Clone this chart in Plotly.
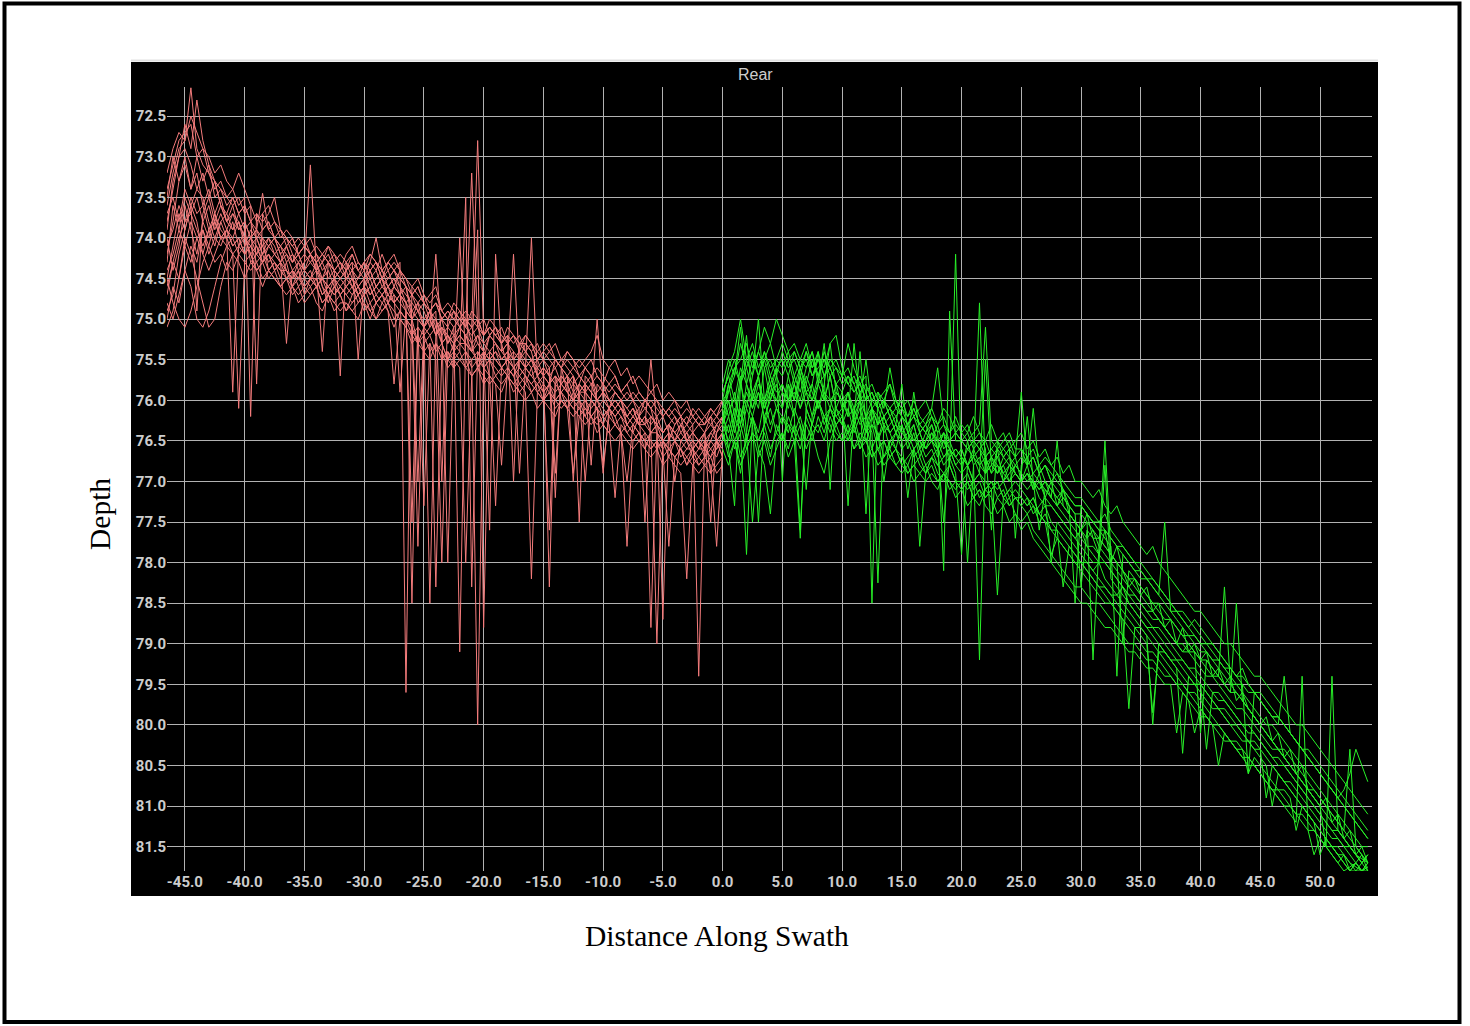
import plotly.graph_objects as go

# ---------------- data ----------------
x_port = [-46.5, -46.0, -45.5, -45.0, -44.5, -44.0, -43.5, -43.0, -42.5, -42.0,
          -41.5, -41.0, -40.5, -40.0, -39.5, -39.0, -38.5, -38.0, -37.5, -37.0,
          -36.5, -36.0, -35.5, -35.0, -34.5, -34.0, -33.5, -33.0, -32.5, -32.0,
          -31.5, -31.0, -30.5, -30.0, -29.5, -29.0, -28.5, -28.0, -27.5, -27.0,
          -26.5, -26.0, -25.5, -25.0, -24.5, -24.0, -23.5, -23.0, -22.5, -22.0,
          -21.5, -21.0, -20.5, -20.0, -19.5, -19.0, -18.5, -18.0, -17.5, -17.0,
          -16.5, -16.0, -15.5, -15.0, -14.5, -14.0, -13.5, -13.0, -12.5, -12.0,
          -11.5, -11.0, -10.5, -10.0, -9.5, -9.0, -8.5, -8.0, -7.5, -7.0,
          -6.5, -6.0, -5.5, -5.0, -4.5, -4.0, -3.5, -3.0, -2.5, -2.0,
          -1.5, -1.0, -0.5, 0.0]

x_stbd = [0.0, 0.5, 1.0, 1.5, 2.0, 2.5, 3.0, 3.5, 4.0, 4.5,
          5.0, 5.5, 6.0, 6.5, 7.0, 7.5, 8.0, 8.5, 9.0, 9.5,
          10.0, 10.5, 11.0, 11.5, 12.0, 12.5, 13.0, 13.5, 14.0, 14.5,
          15.0, 15.5, 16.0, 16.5, 17.0, 17.5, 18.0, 18.5, 19.0, 19.5,
          20.0, 20.5, 21.0, 21.5, 22.0, 22.5, 23.0, 23.5, 24.0, 24.5,
          25.0, 25.5, 26.0, 26.5, 27.0, 27.5, 28.0, 28.5, 29.0, 29.5,
          30.0, 30.5, 31.0, 31.5, 32.0, 32.5, 33.0, 33.5, 34.0, 34.5,
          35.0, 35.5, 36.0, 36.5, 37.0, 37.5, 38.0, 38.5, 39.0, 39.5,
          40.0, 40.5, 41.0, 41.5, 42.0, 42.5, 43.0, 43.5, 44.0, 44.5,
          45.0, 45.5, 46.0, 46.5, 47.0, 47.5, 48.0, 48.5, 49.0, 49.5,
          50.0, 50.5, 51.0, 51.5, 52.0, 52.5, 53.0, 53.5, 54.0]

port_ping_1 = [73.6, 73.2, 72.9, 72.8, 72.15, 72.9, 73.1, 73.2, 73.4, 73.3,
               73.5, 73.6, 73.5, 73.7, 73.6, 73.8, 73.7, 73.9, 73.8, 73.9,
               74.0, 74.1, 74.0, 74.1, 74.2, 74.1, 74.2, 74.1, 74.3, 74.2,
               74.3, 74.2, 74.4, 74.3, 74.2, 74.3, 74.4, 74.3, 74.4, 74.3,
               79.6, 74.6, 74.7, 74.8, 74.9, 74.8, 75.0, 74.9, 75.0, 74.9,
               75.0, 75.1, 75.0, 75.2, 75.1, 75.2, 75.1, 75.3, 75.2, 75.3,
               75.3, 75.4, 75.3, 75.5, 75.4, 75.5, 75.6, 75.5, 75.6, 75.5,
               75.6, 75.7, 75.6, 75.7, 75.8, 75.7, 75.9, 75.8, 76.0, 75.9,
               76.0, 76.1, 76.0, 76.1, 76.2, 76.1, 76.2, 76.1, 76.2, 76.3,
               76.2, 76.3, 76.2, 76.1]
port_ping_2 = [74.6, 74.3, 74.0, 73.8, 73.7, 73.9, 74.1, 73.9, 73.8, 74.0,
               73.9, 74.1, 74.0, 74.2, 74.1, 74.3, 74.2, 74.4, 74.3, 74.4,
               74.5, 74.4, 74.6, 74.5, 74.6, 74.5, 74.7, 74.6, 74.7, 74.6,
               74.7, 74.8, 74.7, 74.6, 74.8, 74.7, 74.8, 74.7, 74.8, 74.9,
               75.0, 75.1, 75.3, 75.2, 75.4, 75.3, 75.5, 75.4, 75.5, 75.4,
               75.6, 75.5, 80.0, 75.6, 75.5, 75.7, 75.6, 75.7, 75.6, 75.8,
               75.7, 75.9, 75.8, 75.9, 75.8, 76.0, 75.9, 76.1, 76.0, 76.1,
               76.0, 76.2, 76.1, 76.2, 76.1, 76.3, 76.2, 76.4, 76.3, 76.4,
               76.5, 76.4, 79.0, 76.5, 76.6, 76.5, 76.7, 76.6, 76.6, 76.7,
               76.6, 76.7, 76.6, 76.5]
port_ping_3 = [74.2, 73.8, 73.3, 73.0, 73.4, 73.2, 73.6, 73.4, 73.7, 73.5,
               73.8, 73.6, 73.9, 73.8, 74.0, 73.9, 74.1, 74.0, 74.2, 74.1,
               74.3, 74.2, 74.4, 74.3, 73.1, 74.4, 74.3, 74.5, 74.4, 74.5,
               74.4, 74.6, 74.5, 74.4, 74.6, 74.5, 74.4, 74.6, 74.5, 74.7,
               74.6, 74.9, 74.8, 75.1, 74.9, 75.2, 75.0, 75.3, 75.1, 79.1,
               75.2, 75.4, 75.2, 75.3, 75.4, 75.3, 75.5, 75.4, 75.5, 75.4,
               75.6, 75.5, 75.7, 75.6, 75.7, 75.6, 75.8, 75.7, 75.9, 75.8,
               75.9, 75.8, 76.0, 75.9, 76.0, 76.1, 76.0, 76.2, 76.1, 76.3,
               76.2, 76.3, 76.2, 76.4, 76.3, 76.4, 76.5, 76.4, 76.3, 79.4,
               76.5, 76.4, 76.3, 76.4]
port_ping_4 = [74.8, 75.0, 74.7, 74.4, 74.6, 75.0, 75.1, 74.9, 74.6, 74.3,
               74.1, 74.2, 76.1, 74.3, 74.2, 74.4, 74.3, 74.5, 74.4, 74.6,
               74.5, 74.7, 74.6, 74.8, 74.7, 74.6, 74.8, 74.7, 74.9, 74.8,
               74.8, 74.9, 74.8, 74.7, 74.9, 74.8, 74.9, 74.8, 74.9, 75.0,
               75.1, 75.2, 75.3, 75.4, 75.3, 78.3, 75.4, 75.5, 75.6, 75.5,
               75.6, 75.7, 75.6, 75.7, 75.8, 75.7, 75.8, 75.7, 75.9, 75.8,
               75.9, 78.2, 75.9, 76.0, 75.9, 76.1, 76.0, 76.1, 76.2, 76.1,
               76.2, 76.3, 76.2, 76.3, 76.4, 76.3, 76.4, 77.8, 76.5, 76.4,
               76.5, 76.6, 76.5, 76.7, 76.6, 76.7, 76.8, 76.7, 76.8, 76.7,
               76.8, 76.9, 76.8, 76.7]
port_ping_5 = [73.4, 73.1, 72.8, 72.7, 72.6, 73.0, 72.9, 73.2, 73.3, 73.4,
               73.5, 73.4, 73.6, 73.5, 76.2, 73.7, 73.8, 73.7, 73.5, 73.9,
               74.0, 74.1, 74.2, 74.1, 74.2, 74.3, 74.2, 74.3, 74.2, 74.3,
               74.4, 74.3, 74.4, 74.3, 74.4, 74.3, 74.4, 74.5, 74.4, 74.5,
               74.6, 74.7, 74.6, 74.8, 74.9, 74.8, 74.9, 75.0, 74.9, 75.0,
               75.1, 73.2, 75.1, 75.2, 75.1, 75.2, 75.3, 75.2, 75.3, 75.2,
               75.4, 75.3, 75.5, 75.4, 75.5, 75.6, 75.5, 75.6, 75.7, 77.5,
               75.7, 75.8, 75.7, 75.8, 75.9, 75.8, 75.9, 76.0, 75.9, 76.0,
               76.1, 76.0, 76.1, 76.2, 76.1, 76.2, 76.3, 76.2, 76.3, 76.2,
               76.3, 76.2, 76.3, 76.2]
port_ping_6 = [74.0, 74.4, 74.1, 73.6, 73.9, 74.2, 73.8, 74.0, 73.7, 73.9,
               74.0, 73.8, 74.1, 74.0, 74.2, 74.1, 74.3, 74.2, 74.3, 74.4,
               74.4, 74.5, 74.3, 74.5, 74.4, 74.6, 74.5, 74.6, 74.5, 74.7,
               74.6, 74.5, 74.7, 74.6, 74.5, 74.7, 74.6, 74.7, 74.8, 74.7,
               74.8, 78.5, 75.0, 75.1, 75.2, 75.1, 75.3, 75.2, 75.3, 75.4,
               73.5, 78.3, 75.4, 75.5, 75.4, 75.5, 75.6, 75.5, 74.2, 75.6,
               75.7, 75.8, 75.7, 75.8, 77.6, 75.8, 75.9, 75.8, 76.0, 75.9,
               76.0, 76.1, 76.0, 76.1, 76.2, 76.1, 76.2, 76.3, 76.2, 76.3,
               76.4, 78.8, 76.4, 76.5, 76.4, 76.5, 76.6, 76.5, 76.6, 76.5,
               76.6, 76.5, 76.6, 76.4]
port_ping_7 = [75.1, 74.9, 74.5, 74.0, 74.2, 74.5, 74.8, 75.1, 75.0, 74.6,
               74.3, 74.4, 74.2, 74.3, 74.4, 74.3, 74.5, 74.4, 74.5, 74.6,
               74.5, 74.6, 74.7, 74.6, 74.7, 74.6, 74.8, 74.7, 74.8, 74.7,
               74.9, 74.8, 74.7, 74.9, 74.8, 75.0, 74.9, 74.8, 75.0, 74.9,
               75.0, 75.1, 77.8, 75.3, 75.2, 75.4, 75.3, 75.5, 75.4, 75.5,
               75.4, 75.6, 75.5, 75.6, 75.7, 77.3, 75.6, 75.7, 75.8, 75.7,
               75.8, 75.9, 75.8, 76.0, 75.9, 76.0, 76.1, 76.0, 76.1, 76.2,
               76.1, 76.2, 76.3, 76.2, 76.3, 77.2, 76.3, 76.4, 76.5, 76.4,
               76.5, 76.6, 76.5, 76.6, 77.8, 76.7, 76.6, 76.8, 76.7, 76.8,
               76.7, 76.8, 77.8, 76.6]
port_ping_8 = [73.5, 73.0, 73.3, 73.1, 73.4, 73.0, 73.3, 73.1, 73.5, 73.4,
               73.6, 73.5, 73.7, 73.6, 73.8, 73.7, 73.9, 73.8, 74.0, 73.9,
               74.1, 74.0, 74.2, 74.1, 74.2, 74.3, 74.2, 74.3, 74.4, 75.7,
               74.3, 74.4, 74.3, 74.4, 74.3, 74.0, 74.4, 74.3, 74.4, 74.5,
               74.6, 74.7, 74.8, 74.7, 74.9, 74.8, 75.0, 74.9, 75.0, 75.1,
               75.0, 75.1, 72.8, 75.2, 75.1, 75.2, 75.3, 75.2, 77.0, 75.3,
               75.4, 75.5, 75.4, 75.5, 75.6, 75.5, 75.6, 75.7, 75.6, 75.7,
               75.8, 76.8, 75.8, 75.9, 75.8, 75.9, 76.0, 75.9, 76.0, 76.1,
               76.0, 76.1, 76.2, 76.1, 76.2, 76.3, 76.2, 76.3, 76.2, 76.3,
               76.3, 76.2, 76.1, 76.0]
port_ping_9 = [74.3, 73.6, 73.9, 73.5, 73.7, 73.5, 73.8, 73.6, 73.9, 73.7,
               73.9, 74.0, 73.8, 74.0, 74.1, 74.0, 74.2, 74.1, 74.2, 74.3,
               74.2, 74.4, 74.3, 74.4, 74.5, 74.4, 74.5, 74.4, 74.6, 74.5,
               74.6, 74.5, 74.6, 74.5, 74.7, 74.6, 74.5, 74.7, 74.6, 74.7,
               74.8, 74.9, 75.0, 75.1, 78.5, 75.2, 75.1, 78.0, 75.3, 75.2,
               75.3, 75.4, 75.3, 75.4, 75.5, 75.4, 75.5, 75.4, 75.6, 75.5,
               75.6, 75.7, 75.6, 75.7, 75.8, 75.7, 75.8, 75.9, 75.8, 75.9,
               75.9, 76.0, 76.1, 76.9, 76.1, 76.2, 76.1, 76.2, 76.3, 76.2,
               76.3, 75.5, 76.3, 76.4, 76.3, 76.5, 76.4, 76.5, 76.4, 76.5,
               76.4, 77.5, 76.4, 76.3]
port_ping_10 = [74.5, 74.1, 73.7, 73.9, 73.6, 73.8, 74.2, 74.4, 74.2, 74.0,
                74.1, 74.0, 74.2, 74.1, 74.0, 74.2, 74.1, 74.3, 74.2, 74.3,
                75.3, 74.4, 74.5, 74.4, 74.5, 74.6, 74.5, 74.6, 74.5, 74.6,
                74.5, 74.6, 74.7, 74.6, 74.7, 74.6, 74.7, 74.6, 74.7, 75.9,
                74.9, 75.0, 74.9, 75.1, 75.0, 75.2, 75.1, 75.2, 75.3, 75.2,
                75.3, 75.4, 75.5, 75.4, 75.5, 75.4, 75.6, 75.5, 75.6, 75.5,
                75.6, 74.0, 75.7, 75.6, 78.3, 75.7, 75.8, 75.7, 77.0, 75.8,
                75.9, 76.0, 75.0, 76.0, 76.1, 76.0, 76.1, 76.2, 76.1, 76.2,
                76.3, 76.2, 76.3, 76.4, 76.3, 76.4, 76.5, 76.4, 76.5, 76.6,
                76.5, 76.6, 76.5, 76.4]
port_ping_11 = [74.9, 74.7, 74.2, 73.9, 73.6, 73.4, 73.5, 73.8, 74.0, 74.1,
                73.9, 73.7, 73.8, 74.0, 74.2, 74.4, 74.3, 74.1, 74.0, 74.2,
                74.4, 74.6, 74.5, 74.3, 74.2, 74.4, 74.6, 74.7, 74.5, 74.4,
                74.3, 74.5, 74.7, 74.6, 74.4, 74.3, 74.5, 74.8, 74.6, 74.4,
                74.6, 75.0, 75.3, 75.1, 74.9, 75.0, 75.3, 75.5, 75.3, 75.1,
                75.0, 75.3, 75.6, 75.5, 75.2, 75.1, 75.3, 75.6, 75.7, 75.5,
                75.3, 75.4, 75.7, 75.9, 75.8, 75.5, 75.6, 75.9, 76.0, 75.8,
                75.6, 75.7, 76.0, 76.2, 76.1, 75.9, 76.0, 76.3, 76.4, 76.2,
                76.0, 76.1, 76.4, 76.6, 76.5, 76.3, 76.2, 76.5, 76.7, 76.6,
                76.4, 76.2, 76.5, 76.7]
port_ping_12 = [73.2, 72.9, 72.7, 72.8, 72.5, 72.7, 72.9, 73.0, 73.2, 73.1,
                73.3, 73.4, 73.2, 73.4, 73.6, 75.8, 73.7, 73.6, 73.8, 74.0,
                73.9, 74.0, 74.2, 74.1, 74.0, 74.2, 74.3, 74.1, 74.2, 74.4,
                74.2, 74.1, 74.3, 74.4, 74.2, 74.3, 74.5, 74.3, 74.2, 74.4,
                74.5, 74.7, 74.6, 74.8, 74.7, 74.6, 74.9, 75.0, 74.8, 74.9,
                75.1, 74.9, 75.0, 75.2, 75.0, 75.1, 75.3, 75.1, 75.2, 75.4,
                75.2, 75.3, 75.5, 75.4, 75.3, 75.5, 75.6, 75.4, 75.5, 75.7,
                75.6, 75.5, 75.7, 75.8, 75.6, 75.7, 75.9, 75.8, 75.7, 75.9,
                76.0, 75.9, 76.0, 76.2, 76.1, 76.0, 76.2, 76.3, 76.1, 76.2,
                76.3, 76.1, 76.2, 76.3]
port_ping_13 = [74.4, 74.2, 73.9, 74.1, 73.8, 74.0, 73.9, 74.2, 74.0, 73.8,
                74.0, 74.2, 74.1, 73.9, 74.3, 74.2, 74.0, 74.4, 74.3, 74.5,
                74.3, 74.6, 74.4, 74.7, 74.5, 74.3, 74.6, 74.8, 74.6, 74.7,
                74.9, 74.7, 74.6, 74.8, 75.0, 74.8, 74.7, 74.9, 75.1, 74.9,
                75.0, 75.2, 75.1, 77.3, 75.3, 75.5, 78.0, 75.4, 75.6, 74.0,
                75.5, 75.7, 75.6, 75.4, 75.7, 75.8, 76.8, 75.6, 75.7, 75.9,
                75.8, 75.6, 75.9, 76.0, 75.8, 75.7, 76.0, 76.1, 75.9, 76.0,
                76.2, 76.0, 76.1, 76.3, 76.1, 76.2, 76.4, 77.0, 76.3, 76.4,
                76.6, 76.4, 76.3, 76.5, 76.7, 76.5, 76.6, 76.8, 76.6, 76.5,
                76.7, 76.5, 76.3, 76.2]
port_ping_14 = [73.8, 73.4, 73.0, 72.6, 72.9, 72.3, 72.8, 73.1, 73.3, 73.6,
                73.8, 73.9, 73.7, 73.6, 73.8, 73.9, 73.45, 73.9, 74.0, 74.1,
                74.2, 74.3, 74.1, 74.0, 74.2, 74.4, 74.3, 74.2, 74.4, 74.5,
                74.4, 74.3, 75.5, 74.5, 74.4, 74.6, 74.5, 74.4, 74.6, 74.7,
                74.9, 75.0, 74.8, 74.9, 75.1, 75.0, 75.2, 75.1, 74.9, 75.1,
                75.2, 75.1, 75.3, 75.4, 75.2, 75.3, 75.4, 75.3, 75.5, 75.4,
                75.5, 75.6, 75.5, 75.7, 75.6, 76.9, 75.7, 75.8, 75.7, 75.9,
                75.8, 75.9, 76.0, 75.9, 76.1, 76.0, 76.1, 76.2, 76.1, 76.3,
                76.2, 76.4, 76.3, 76.2, 76.4, 76.5, 76.3, 76.4, 76.6, 76.5,
                76.6, 76.4, 76.5, 76.7]
port_ping_15 = [74.7, 74.3, 74.5, 74.1, 74.3, 74.0, 74.2, 73.9, 74.1, 73.8,
                73.7, 73.9, 73.8, 74.1, 73.9, 74.0, 74.2, 74.0, 74.1, 74.3,
                74.1, 74.3, 74.2, 74.4, 74.2, 74.3, 74.5, 74.3, 74.4, 74.3,
                74.4, 74.2, 74.4, 74.5, 74.3, 74.4, 74.2, 74.4, 74.3, 74.4,
                74.5, 74.6, 74.5, 74.7, 74.8, 74.7, 74.9, 74.8, 74.9, 75.0,
                74.9, 75.0, 75.1, 75.0, 75.2, 75.1, 75.2, 75.3, 75.2, 75.3,
                75.2, 75.3, 75.4, 75.3, 75.4, 75.3, 75.5, 75.4, 75.5, 75.6,
                75.5, 75.4, 75.2, 75.5, 75.6, 75.5, 75.7, 75.6, 75.8, 75.7,
                75.8, 75.9, 75.8, 76.0, 75.9, 76.0, 76.1, 76.0, 76.2, 76.1,
                76.2, 76.1, 76.2, 76.0]
port_ping_16 = [74.5, 74.8, 75.0, 75.1, 74.9, 74.6, 74.3, 74.1, 74.3, 74.2,
                74.4, 74.2, 74.3, 74.5, 74.3, 74.4, 74.6, 74.4, 74.5, 74.6,
                74.7, 74.6, 74.8, 74.7, 74.6, 74.8, 74.9, 74.7, 74.8, 74.9,
                74.8, 74.9, 75.0, 74.8, 74.9, 75.0, 74.8, 74.9, 75.8, 75.0,
                75.1, 75.3, 75.2, 75.4, 75.5, 75.3, 75.4, 75.6, 75.5, 75.6,
                78.0, 75.7, 75.6, 75.8, 75.7, 75.8, 75.9, 75.7, 75.8, 75.9,
                76.0, 75.9, 76.1, 76.0, 76.1, 76.2, 76.0, 76.1, 76.9, 76.2,
                76.3, 76.2, 76.4, 76.3, 76.4, 76.5, 76.4, 76.5, 76.6, 76.5,
                76.6, 76.7, 76.6, 76.8, 76.7, 76.8, 76.9, 78.2, 76.8, 76.9,
                76.8, 76.7, 76.9, 76.8]
port_ping_17 = [73.7, 73.5, 73.8, 73.4, 73.6, 74.9, 73.7, 73.5, 73.8, 73.6,
                73.8, 73.7, 73.9, 73.8, 74.0, 73.9, 74.0, 74.1, 74.0, 74.2,
                74.1, 74.3, 74.2, 74.4, 74.3, 74.4, 75.4, 74.3, 74.5, 74.4,
                74.5, 74.4, 74.6, 74.5, 74.4, 74.6, 74.5, 74.6, 74.5, 74.6,
                74.7, 74.8, 74.9, 75.0, 74.9, 75.1, 75.0, 75.1, 75.2, 75.1,
                75.2, 75.3, 75.2, 75.4, 77.6, 74.2, 75.4, 75.5, 75.4, 76.9,
                75.6, 75.5, 75.7, 75.6, 75.7, 75.8, 75.7, 75.8, 75.7, 75.9,
                75.8, 75.9, 76.0, 75.9, 76.0, 76.1, 76.0, 76.1, 76.2, 76.1,
                77.5, 76.2, 76.3, 76.4, 76.3, 76.4, 76.3, 76.5, 76.4, 76.5,
                76.4, 76.9, 76.5, 76.4]
port_ping_18 = [73.9, 73.3, 73.0, 72.9, 73.1, 73.4, 73.2, 73.5, 73.3, 73.6,
                73.7, 73.5, 73.7, 73.9, 73.8, 74.0, 73.9, 73.8, 74.0, 74.1,
                74.0, 74.2, 74.3, 74.2, 74.3, 74.2, 74.4, 74.3, 74.4, 74.3,
                74.5, 74.4, 74.5, 74.3, 74.5, 74.4, 74.6, 74.5, 74.4, 74.6,
                74.8, 74.7, 74.9, 74.8, 75.0, 74.9, 77.0, 75.0, 75.1, 75.0,
                75.1, 75.2, 75.1, 75.3, 75.2, 75.3, 75.4, 75.3, 75.4, 75.5,
                75.4, 75.5, 75.6, 75.5, 75.7, 77.2, 75.6, 75.7, 75.8, 75.7,
                75.8, 75.7, 75.9, 75.8, 76.0, 75.9, 76.0, 76.1, 76.0, 76.2,
                76.1, 76.2, 76.3, 78.7, 76.3, 76.2, 76.4, 76.3, 76.4, 76.3,
                76.4, 76.3, 76.4, 76.2]
port_ping_19 = [75.0, 74.6, 74.8, 74.4, 74.1, 74.3, 73.9, 74.1, 73.8, 74.0,
                74.0, 75.9, 74.1, 74.2, 74.0, 74.1, 74.3, 74.2, 74.4, 74.3,
                74.4, 74.5, 74.4, 74.6, 74.5, 74.5, 74.7, 74.6, 74.7, 74.6,
                74.7, 74.6, 74.8, 74.7, 74.6, 74.8, 74.7, 74.8, 74.7, 74.8,
                74.9, 77.5, 75.1, 75.2, 75.1, 74.2, 75.3, 75.2, 75.4, 75.3,
                75.4, 75.5, 75.4, 75.6, 75.5, 75.6, 75.7, 75.6, 75.7, 75.6,
                75.7, 75.8, 75.9, 75.8, 75.9, 76.0, 75.9, 76.0, 76.1, 76.0,
                76.1, 76.2, 76.1, 76.8, 76.2, 76.3, 76.4, 76.3, 76.4, 76.5,
                76.4, 76.5, 76.6, 76.5, 76.6, 76.7, 76.6, 76.7, 76.6, 76.8,
                76.7, 76.6, 76.7, 76.5]
port_ping_20 = [74.1, 73.9, 73.6, 73.8, 73.5, 73.7, 73.6, 73.9, 73.7, 74.0,
                73.9, 74.1, 74.0, 74.2, 74.1, 74.2, 74.3, 74.2, 74.4, 74.3,
                74.5, 74.4, 74.5, 74.6, 74.5, 74.6, 74.5, 74.7, 74.6, 74.7,
                74.6, 74.7, 74.6, 74.7, 74.6, 74.8, 74.7, 74.6, 74.8, 74.7,
                74.8, 75.0, 77.0, 75.1, 75.0, 75.2, 75.1, 75.3, 75.2, 75.3,
                75.3, 75.4, 73.9, 78.8, 75.4, 75.5, 75.6, 75.5, 75.6, 75.7,
                75.6, 75.7, 75.8, 75.7, 75.8, 75.9, 75.8, 75.9, 76.0, 75.9,
                77.0, 76.0, 76.1, 76.0, 76.1, 76.2, 76.1, 76.3, 76.2, 76.3,
                76.3, 76.4, 76.4, 76.5, 76.4, 77.0, 76.5, 76.6, 76.5, 76.6,
                76.6, 76.7, 76.5, 76.6]

stbd_ping_1 = [76.3, 75.8, 76.2, 75.7, 76.4, 75.9, 76.1, 75.6, 76.0, 75.8,
               76.1, 75.7, 76.0, 75.6, 75.9, 76.2, 75.8, 76.0, 75.7, 76.1,
               76.2, 75.9, 76.3, 76.0, 76.4, 76.1, 76.5, 76.2, 76.4, 76.6,
               76.3, 76.6, 76.4, 76.7, 76.5, 76.3, 76.6, 76.4, 76.8, 74.2,
               76.9, 76.5, 76.8, 79.2, 76.7, 76.9, 76.6, 77.0, 76.8, 76.7,
               77.0, 76.8, 77.1, 76.9, 77.2, 77.0, 77.3, 77.1, 77.4, 77.5,
               77.6, 77.4, 77.7, 77.9, 77.6, 78.0, 77.8, 78.1, 78.3, 78.2,
               78.4, 78.3, 78.6, 78.5, 78.8, 78.7, 79.0, 78.8, 79.1, 79.0,
               79.2, 79.1, 79.4, 79.3, 79.5, 79.4, 79.7, 79.6, 79.8, 79.9,
               80.0, 79.9, 80.2, 80.1, 80.4, 80.3, 80.6, 80.5, 80.8, 80.9,
               81.0, 80.9, 81.2, 81.1, 81.4, 81.3, 81.6, 81.5, 81.7]
stbd_ping_2 = [76.0, 75.6, 75.4, 75.0, 75.5, 75.3, 75.6, 75.4, 75.7, 75.5,
               75.6, 75.4, 75.7, 75.5, 75.3, 75.6, 75.4, 75.7, 75.5, 75.6,
               75.7, 75.3, 75.6, 75.8, 75.7, 78.5, 75.9, 76.0, 75.8, 76.1,
               76.0, 76.2, 76.1, 76.3, 76.2, 76.1, 76.3, 76.2, 76.4, 76.3,
               76.4, 76.5, 76.4, 76.3, 75.1, 76.5, 76.6, 76.5, 76.4, 76.6,
               76.6, 76.7, 76.6, 76.8, 76.7, 76.8, 76.9, 77.0, 77.1, 77.2,
               77.2, 77.3, 77.4, 77.5, 77.4, 77.6, 77.7, 77.8, 77.9, 78.0,
               78.0, 78.1, 78.2, 78.3, 78.4, 78.5, 78.6, 78.7, 78.8, 78.7,
               78.8, 78.9, 79.0, 79.1, 79.2, 79.3, 79.4, 79.3, 79.5, 79.6,
               79.6, 79.7, 79.8, 79.9, 80.0, 80.1, 80.2, 80.3, 80.4, 80.5,
               80.6, 80.7, 80.8, 80.9, 81.0, 81.1, 81.2, 81.3, 81.4]
stbd_ping_3 = [76.5, 76.3, 76.6, 76.4, 77.9, 76.2, 76.5, 76.3, 76.1, 76.4,
               76.2, 76.3, 76.5, 77.7, 76.1, 76.3, 76.0, 76.2, 76.4, 76.1,
               76.3, 76.4, 76.2, 76.5, 76.3, 76.6, 76.4, 76.7, 76.5, 76.6,
               76.8, 76.7, 76.6, 77.8, 76.9, 76.7, 76.8, 76.9, 76.8, 77.0,
               77.0, 76.9, 77.1, 77.0, 77.2, 77.1, 77.0, 77.2, 77.1, 77.2,
               77.3, 77.2, 77.4, 77.3, 77.2, 78.0, 77.5, 77.6, 77.7, 77.8,
               77.9, 78.0, 78.1, 78.0, 78.2, 78.3, 78.4, 78.3, 78.5, 78.6,
               78.7, 78.8, 78.9, 79.0, 79.1, 79.2, 79.3, 80.35, 79.4, 79.5,
               79.5, 79.6, 79.7, 79.8, 79.9, 80.0, 80.0, 80.1, 80.2, 80.3,
               80.3, 80.4, 80.5, 80.6, 80.7, 80.8, 80.9, 81.0, 81.1, 81.2,
               81.3, 81.4, 81.5, 81.6, 81.6, 81.7, 81.75, 81.8, 81.75]
stbd_ping_4 = [76.1, 76.0, 76.3, 75.8, 76.1, 75.7, 75.0, 76.0, 75.8, 76.1,
               75.9, 76.0, 75.8, 76.1, 75.9, 76.0, 75.8, 75.3, 76.0, 75.9,
               76.0, 76.2, 76.1, 76.3, 76.2, 76.4, 78.25, 76.3, 76.4, 76.3,
               76.5, 76.4, 76.6, 76.5, 76.6, 76.4, 76.5, 76.7, 76.6, 76.7,
               76.8, 76.6, 76.7, 74.8, 76.9, 76.8, 76.9, 76.7, 76.8, 76.9,
               77.0, 76.9, 77.0, 77.1, 77.0, 77.1, 77.2, 77.3, 77.4, 77.5,
               77.6, 77.5, 79.2, 77.8, 76.5, 77.9, 78.0, 78.1, 78.2, 78.3,
               78.4, 78.5, 78.6, 78.7, 78.8, 78.9, 79.0, 79.1, 79.0, 79.1,
               79.2, 79.3, 79.4, 79.4, 79.5, 79.6, 78.5, 79.7, 79.8, 79.9,
               80.0, 80.1, 80.2, 80.3, 80.4, 80.5, 80.6, 80.7, 80.8, 80.9,
               81.0, 81.1, 81.2, 81.3, 81.4, 81.5, 81.6, 81.65, 81.7]
stbd_ping_5 = [76.0, 75.9, 75.6, 75.8, 75.5, 75.7, 75.4, 75.6, 75.5, 75.7,
               75.4, 75.6, 75.5, 75.7, 75.4, 75.6, 75.5, 75.7, 75.6, 75.8,
               75.7, 75.8, 75.9, 75.8, 76.0, 75.9, 76.1, 76.0, 76.2, 76.1,
               76.2, 76.3, 76.2, 76.4, 76.3, 76.2, 76.4, 78.1, 74.9, 76.5,
               76.5, 76.6, 76.5, 76.6, 76.7, 76.6, 76.7, 76.6, 76.7, 76.8,
               76.7, 76.8, 76.1, 76.9, 76.8, 76.9, 77.0, 77.1, 77.2, 77.3,
               77.3, 77.4, 77.5, 77.6, 77.7, 77.8, 79.4, 77.9, 78.0, 78.1,
               78.1, 78.2, 78.3, 78.4, 77.5, 78.6, 78.7, 78.8, 78.9, 78.9,
               79.0, 79.1, 79.2, 79.2, 79.3, 79.4, 79.5, 79.5, 80.6, 79.6,
               79.7, 79.8, 79.9, 80.0, 79.4, 80.1, 80.2, 80.3, 80.4, 80.5,
               80.6, 80.7, 80.8, 80.9, 81.0, 81.1, 81.2, 81.3, 81.4]
stbd_ping_6 = [76.4, 76.2, 76.5, 76.3, 76.6, 76.4, 76.5, 76.3, 76.6, 76.4,
               76.5, 76.3, 76.4, 76.2, 76.5, 76.3, 76.4, 76.2, 76.3, 76.5,
               76.4, 76.5, 76.3, 76.6, 76.5, 76.7, 76.6, 76.8, 76.7, 76.6,
               76.8, 76.9, 76.8, 76.9, 77.0, 76.9, 77.0, 76.9, 77.1, 77.0,
               77.1, 77.0, 77.2, 77.1, 77.2, 77.1, 78.4, 77.2, 77.3, 77.2,
               77.3, 77.4, 77.3, 77.5, 77.4, 77.6, 77.7, 77.8, 77.9, 78.0,
               78.1, 78.2, 78.3, 78.4, 78.5, 78.5, 78.6, 78.7, 79.8, 78.8,
               78.9, 79.0, 79.85, 79.1, 79.2, 79.3, 79.4, 79.5, 79.6, 79.6,
               79.7, 79.8, 79.9, 80.0, 80.1, 80.2, 80.2, 80.3, 80.4, 80.5,
               80.6, 80.7, 80.8, 80.9, 81.0, 81.1, 81.2, 79.4, 81.3, 81.6,
               81.4, 81.5, 81.6, 81.7, 81.8, 81.75, 81.7, 81.8, 81.7]
stbd_ping_7 = [76.2, 76.4, 76.1, 76.3, 76.0, 76.2, 75.9, 76.1, 75.8, 76.0,
               76.1, 75.8, 76.0, 75.7, 75.9, 75.8, 76.1, 75.9, 76.0, 76.2,
               76.1, 76.0, 76.2, 75.4, 76.3, 76.1, 76.2, 76.4, 76.3, 76.2,
               76.4, 76.5, 76.3, 76.6, 76.5, 76.4, 76.6, 77.5, 76.7, 76.6,
               76.7, 76.8, 76.6, 76.8, 76.9, 76.7, 76.8, 77.0, 76.9, 76.8,
               76.9, 77.0, 76.9, 77.0, 77.1, 77.2, 76.5, 77.3, 77.4, 77.5,
               77.6, 77.7, 77.6, 77.8, 77.9, 78.0, 78.1, 78.2, 78.3, 78.4,
               78.5, 78.6, 78.6, 78.7, 78.8, 78.9, 79.0, 79.0, 79.1, 79.1,
               80.1, 79.2, 79.3, 79.4, 78.3, 79.5, 79.6, 79.7, 79.8, 79.9,
               80.0, 80.1, 80.2, 80.3, 80.4, 80.5, 80.6, 80.7, 80.8, 80.9,
               81.0, 81.5, 79.4, 81.3, 81.4, 81.5, 81.6, 81.7, 81.6]
stbd_ping_8 = [75.9, 75.7, 76.0, 75.6, 75.8, 75.5, 75.7, 75.4, 75.6, 75.5,
               75.3, 75.5, 75.4, 75.6, 75.5, 75.7, 75.6, 75.5, 75.7, 75.6,
               75.8, 75.7, 75.9, 75.8, 76.0, 75.9, 76.1, 76.0, 76.1, 76.2,
               76.1, 76.3, 76.2, 76.3, 76.4, 76.3, 76.5, 76.4, 76.5, 76.4,
               76.5, 76.6, 76.5, 76.6, 76.5, 76.7, 76.6, 76.7, 76.6, 76.7,
               75.9, 76.8, 76.7, 76.9, 76.8, 77.0, 76.9, 77.1, 77.2, 77.3,
               77.3, 77.4, 77.5, 77.5, 77.6, 77.7, 77.8, 77.8, 77.9, 78.0,
               78.1, 78.2, 78.2, 78.3, 78.4, 78.5, 78.6, 78.6, 78.7, 78.8,
               78.9, 79.0, 79.0, 79.1, 79.2, 79.3, 79.4, 79.4, 79.5, 79.6,
               79.7, 79.8, 79.9, 79.9, 80.0, 80.1, 80.2, 80.3, 80.4, 80.5,
               80.6, 80.7, 80.8, 80.9, 80.8, 80.6, 80.3, 80.5, 80.7]
stbd_ping_9 = [76.6, 76.8, 76.5, 76.9, 76.4, 77.5, 76.6, 76.8, 77.4, 76.5,
               76.4, 76.6, 76.3, 76.5, 76.2, 76.4, 76.3, 76.5, 76.2, 76.4,
               76.5, 76.3, 76.6, 76.4, 76.5, 76.7, 76.6, 76.5, 76.7, 76.8,
               76.7, 76.9, 76.8, 76.7, 76.9, 76.8, 77.0, 76.9, 77.0, 77.1,
               77.0, 77.1, 77.0, 77.2, 77.1, 77.0, 77.2, 77.1, 77.3, 77.2,
               77.2, 77.3, 77.2, 77.4, 77.5, 77.6, 77.6, 77.7, 77.8, 77.9,
               78.0, 78.1, 78.2, 78.3, 78.4, 78.5, 78.6, 78.7, 78.8, 78.9,
               79.0, 79.1, 79.1, 79.2, 79.3, 79.4, 79.5, 79.5, 79.6, 79.7,
               79.8, 79.9, 80.0, 80.0, 80.1, 80.2, 80.3, 80.4, 80.4, 80.5,
               80.6, 80.7, 80.8, 80.9, 81.0, 81.0, 81.1, 81.2, 81.3, 81.3,
               81.4, 81.5, 81.6, 81.7, 81.6, 81.8, 81.8, 81.8, 81.75]
stbd_ping_10 = [76.3, 76.1, 76.0, 76.2, 75.9, 76.1, 75.8, 76.0, 75.7, 75.9,
                75.8, 76.0, 75.7, 75.9, 75.6, 75.4, 75.8, 75.7, 77.1, 75.9,
                76.0, 75.9, 76.1, 76.0, 76.2, 76.1, 76.3, 76.2, 76.4, 76.3,
                75.8, 76.4, 76.5, 76.4, 76.6, 76.5, 76.6, 76.5, 76.7, 76.6,
                76.7, 76.8, 76.7, 76.8, 76.7, 76.9, 76.8, 76.9, 76.8, 76.9,
                77.0, 76.9, 77.0, 77.1, 77.0, 77.2, 77.3, 77.2, 77.3, 77.4,
                78.3, 77.6, 77.7, 77.7, 77.8, 77.9, 78.0, 78.1, 78.2, 78.2,
                78.3, 78.4, 78.5, 78.6, 78.7, 78.7, 78.8, 78.9, 79.0, 79.1,
                79.2, 79.2, 79.3, 79.4, 79.5, 79.6, 79.6, 79.7, 79.8, 79.9,
                80.0, 80.1, 80.2, 80.3, 80.3, 80.4, 80.5, 80.6, 80.7, 80.8,
                80.9, 81.0, 81.1, 81.2, 81.3, 80.3, 81.5, 81.6, 81.7]
stbd_ping_11 = [75.8, 75.5, 75.7, 75.3, 75.6, 75.4, 75.7, 75.5, 75.3, 75.6,
                75.5, 75.7, 75.4, 75.6, 75.8, 75.5, 75.7, 75.4, 75.6, 75.5,
                75.7, 75.6, 75.8, 75.7, 75.9, 75.8, 76.0, 75.9, 75.8, 76.0,
                76.1, 76.0, 76.2, 76.1, 76.0, 76.2, 76.3, 76.1, 76.2, 76.4,
                76.3, 76.4, 76.2, 76.4, 76.5, 76.3, 76.5, 76.4, 76.6, 76.5,
                76.4, 76.6, 76.5, 76.7, 76.6, 76.8, 76.7, 76.9, 76.8, 77.0,
                77.0, 77.1, 77.2, 77.1, 77.3, 77.4, 77.3, 77.5, 77.6, 77.7,
                77.8, 77.9, 77.8, 78.0, 78.1, 78.2, 78.3, 78.4, 78.5, 78.6,
                78.6, 78.7, 78.8, 78.9, 79.0, 79.0, 79.1, 79.2, 79.3, 79.4,
                79.4, 79.5, 79.6, 79.7, 79.8, 79.9, 80.0, 80.0, 80.1, 80.2,
                80.3, 80.4, 80.5, 80.6, 80.7, 80.8, 80.9, 81.0, 81.1]
stbd_ping_12 = [76.4, 76.6, 76.3, 76.7, 76.5, 76.2, 76.6, 76.4, 76.7, 76.3,
                76.5, 76.2, 76.4, 76.6, 76.3, 76.5, 76.2, 76.4, 76.1, 76.3,
                76.2, 76.5, 76.3, 76.6, 76.4, 76.3, 76.6, 76.5, 76.7, 76.6,
                76.7, 76.8, 76.6, 76.8, 76.9, 76.7, 76.9, 77.0, 76.8, 77.0,
                77.1, 77.0, 77.2, 77.3, 77.1, 77.2, 77.4, 77.3, 77.2, 77.4,
                77.5, 77.4, 77.6, 77.7, 77.8, 77.9, 78.0, 78.1, 78.2, 78.3,
                78.3, 78.4, 78.5, 78.5, 78.6, 78.7, 78.8, 78.9, 79.0, 79.0,
                79.1, 79.2, 79.2, 79.3, 79.4, 79.4, 79.5, 79.6, 79.7, 80.1,
                79.8, 79.9, 80.0, 80.5, 80.1, 80.2, 80.3, 80.3, 80.6, 80.4,
                80.5, 80.6, 80.7, 80.8, 80.8, 80.9, 81.3, 81.0, 81.1, 81.2,
                81.3, 81.4, 81.5, 81.5, 81.6, 81.7, 81.8, 81.7, 81.6]
stbd_ping_13 = [76.0, 76.2, 75.9, 76.3, 75.8, 76.1, 75.9, 76.2, 76.0, 75.7,
                75.9, 76.1, 75.8, 76.0, 75.7, 75.9, 76.1, 75.8, 75.3, 75.9,
                76.0, 77.3, 76.1, 75.9, 76.2, 76.0, 76.1, 76.3, 76.2, 76.4,
                76.3, 76.5, 75.9, 76.4, 76.6, 76.5, 76.7, 76.5, 76.6, 76.8,
                76.7, 78.0, 76.8, 76.7, 76.9, 76.8, 76.7, 76.9, 77.0, 76.8,
                76.9, 76.2, 77.0, 77.6, 77.1, 77.2, 77.3, 77.4, 77.5, 77.6,
                77.7, 77.8, 77.8, 77.9, 78.0, 78.1, 78.2, 78.3, 78.4, 78.5,
                78.6, 78.7, 78.8, 78.8, 78.9, 79.0, 79.1, 79.2, 79.3, 79.3,
                79.4, 79.5, 79.6, 79.6, 79.7, 79.8, 79.9, 80.0, 80.0, 80.1,
                80.2, 80.3, 80.4, 80.4, 80.5, 80.6, 80.7, 80.8, 80.9, 81.0,
                81.1, 81.2, 81.3, 81.4, 81.5, 81.5, 81.6, 81.7, 81.6]
stbd_ping_14 = [76.1, 75.8, 75.6, 75.5, 75.3, 75.6, 75.4, 75.1, 75.3, 75.0,
                75.2, 75.4, 75.3, 75.5, 75.6, 75.4, 75.7, 75.5, 75.6, 75.8,
                75.9, 75.7, 75.8, 76.0, 75.9, 76.1, 76.0, 76.2, 76.1, 76.0,
                76.2, 76.3, 76.1, 76.3, 76.4, 76.2, 76.4, 76.3, 76.5, 76.4,
                76.5, 76.4, 76.6, 76.5, 76.7, 76.6, 76.5, 76.7, 76.6, 77.7,
                76.8, 76.7, 76.9, 76.8, 77.0, 77.1, 77.2, 77.1, 77.3, 77.4,
                77.4, 77.5, 77.6, 77.7, 77.8, 77.9, 78.0, 79.0, 78.1, 78.2,
                78.3, 78.4, 78.5, 78.5, 78.6, 78.7, 78.8, 78.9, 78.9, 79.0,
                79.1, 79.1, 79.2, 79.3, 79.4, 79.5, 79.5, 79.6, 79.7, 79.8,
                79.9, 80.0, 80.0, 80.1, 80.2, 80.3, 80.4, 80.5, 80.6, 80.7,
                80.8, 80.9, 81.0, 81.1, 81.2, 81.3, 81.4, 81.5, 81.5]
stbd_ping_15 = [76.3, 76.0, 76.4, 76.1, 76.5, 76.2, 76.4, 76.0, 76.3, 76.1,
                76.2, 76.4, 76.1, 76.3, 77.1, 76.2, 76.0, 76.3, 76.1, 76.2,
                76.3, 76.1, 76.4, 76.2, 76.5, 76.3, 76.4, 77.0, 76.5, 76.4,
                76.6, 76.5, 76.7, 76.6, 76.8, 76.7, 76.6, 76.8, 76.7, 76.9,
                77.9, 76.8, 77.0, 76.9, 77.1, 77.0, 77.1, 77.0, 77.2, 77.1,
                77.2, 77.3, 77.2, 77.4, 77.3, 77.5, 77.6, 78.3, 77.8, 77.9,
                78.0, 78.0, 78.1, 78.2, 78.3, 78.4, 78.4, 78.5, 78.6, 78.7,
                78.8, 78.9, 80.0, 79.0, 79.1, 79.2, 79.2, 79.3, 79.4, 79.5,
                79.5, 79.6, 79.7, 79.8, 79.8, 79.9, 80.0, 80.1, 80.2, 80.2,
                80.3, 80.9, 80.5, 80.6, 80.7, 80.7, 80.8, 80.9, 81.0, 81.1,
                81.2, 81.3, 81.4, 81.4, 81.5, 81.6, 81.7, 81.6, 81.8]
stbd_ping_16 = [76.1, 76.6, 77.3, 75.8, 75.2, 76.0, 75.7, 76.3, 75.9, 75.6,
                77.0, 75.8, 76.2, 75.7, 76.1, 75.8, 75.4, 76.0, 75.7, 76.1,
                75.9, 76.2, 75.3, 76.0, 75.5, 76.1, 76.3, 76.0, 76.2, 76.4,
                76.2, 76.4, 76.3, 76.6, 76.4, 76.5, 76.3, 76.6, 76.5, 76.7,
                76.6, 76.8, 76.7, 76.6, 76.8, 76.7, 76.9, 76.8, 76.7, 76.9,
                77.0, 76.9, 77.1, 77.0, 77.2, 77.3, 77.4, 77.5, 77.6, 77.7,
                77.6, 77.8, 77.9, 78.0, 78.0, 78.1, 78.2, 78.3, 78.4, 78.4,
                78.5, 78.6, 78.7, 78.7, 78.8, 78.9, 79.0, 79.1, 79.1, 79.2,
                79.3, 79.4, 79.4, 79.5, 79.6, 79.7, 79.8, 79.8, 79.9, 80.0,
                80.1, 80.2, 80.3, 80.3, 80.4, 80.5, 80.6, 80.7, 80.8, 80.8,
                80.9, 81.0, 81.1, 81.2, 81.3, 81.4, 81.5, 81.6, 81.7]
stbd_ping_17 = [76.4, 76.7, 76.5, 76.8, 76.6, 76.4, 76.7, 76.5, 76.8, 76.6,
                76.4, 76.7, 76.5, 76.3, 76.6, 76.4, 76.7, 76.9, 76.5, 76.3,
                76.5, 76.4, 76.6, 76.5, 76.7, 76.6, 76.8, 76.7, 76.6, 76.8,
                76.9, 76.8, 77.0, 76.9, 76.8, 77.0, 77.1, 76.9, 77.0, 77.2,
                77.1, 77.3, 77.2, 77.1, 77.3, 77.4, 77.2, 77.3, 77.5, 77.4,
                77.6, 77.5, 77.7, 77.8, 77.9, 78.0, 78.1, 78.2, 78.3, 78.4,
                78.5, 78.5, 78.6, 78.7, 78.8, 78.8, 78.9, 79.0, 79.1, 79.1,
                79.2, 79.3, 79.3, 79.4, 79.5, 79.5, 80.1, 79.6, 79.7, 79.8,
                79.9, 79.9, 80.0, 80.1, 80.2, 80.2, 80.3, 80.4, 80.5, 80.5,
                80.6, 80.7, 80.8, 80.8, 80.9, 81.0, 81.1, 81.1, 81.2, 81.3,
                81.4, 81.5, 81.5, 81.6, 81.7, 81.8, 81.7, 81.8, 81.7]
stbd_ping_18 = [75.9, 75.7, 75.5, 75.8, 75.6, 75.9, 75.7, 75.5, 75.8, 75.6,
                75.7, 75.5, 75.8, 75.6, 75.4, 75.7, 75.5, 75.6, 75.3, 75.2,
                75.6, 75.8, 75.7, 75.9, 75.8, 76.0, 75.9, 76.1, 75.6, 76.0,
                76.1, 76.2, 76.0, 76.2, 76.3, 76.1, 75.6, 76.3, 76.4, 76.2,
                76.4, 76.3, 76.5, 76.4, 76.6, 77.6, 76.5, 76.6, 76.5, 76.7,
                76.6, 76.8, 76.7, 76.9, 76.8, 77.0, 77.1, 77.2, 77.3, 78.5,
                77.3, 77.4, 77.5, 77.6, 77.6, 77.7, 77.8, 77.9, 78.0, 78.1,
                78.2, 78.2, 78.3, 78.4, 78.5, 78.6, 78.6, 78.7, 78.8, 78.9,
                79.0, 79.0, 79.1, 79.2, 79.3, 79.3, 79.4, 79.5, 79.6, 79.6,
                79.7, 79.8, 79.9, 79.9, 80.0, 80.1, 80.2, 80.3, 80.3, 80.4,
                80.5, 80.6, 80.7, 80.8, 80.9, 81.0, 81.1, 81.2, 81.3]
stbd_ping_19 = [76.2, 75.9, 75.7, 75.1, 75.8, 76.0, 75.7, 76.1, 75.9, 76.0,
                75.8, 76.0, 75.9, 76.1, 75.8, 76.0, 75.7, 75.9, 76.1, 75.8,
                76.1, 75.9, 76.2, 76.0, 77.4, 76.1, 76.3, 76.2, 76.1, 76.3,
                76.4, 76.3, 76.5, 76.4, 76.3, 76.5, 76.6, 76.4, 76.6, 76.7,
                76.6, 76.8, 76.7, 76.9, 75.5, 76.8, 76.9, 76.8, 77.0, 76.9,
                77.0, 77.1, 77.0, 77.2, 77.3, 77.3, 77.4, 77.5, 77.6, 77.7,
                77.8, 77.9, 78.0, 78.0, 76.8, 78.2, 78.3, 78.4, 78.5, 78.6,
                78.7, 78.8, 78.8, 78.9, 79.0, 79.1, 79.2, 79.2, 79.3, 79.4,
                79.5, 80.3, 79.6, 79.7, 79.7, 79.8, 79.9, 80.0, 80.1, 80.1,
                80.2, 80.3, 80.4, 80.5, 80.5, 80.6, 80.7, 80.8, 80.9, 81.0,
                81.1, 81.2, 81.3, 81.3, 81.4, 81.5, 81.6, 81.7, 81.8]
stbd_ping_20 = [76.3, 76.5, 76.2, 76.4, 76.1, 76.3, 77.5, 76.2, 76.4, 76.1,
                76.3, 76.0, 76.2, 77.6, 76.1, 76.3, 76.0, 76.2, 76.1, 76.3,
                76.2, 76.4, 76.3, 76.1, 76.4, 76.2, 76.5, 76.3, 76.6, 76.4,
                76.5, 77.2, 76.6, 76.5, 76.7, 76.6, 76.8, 76.7, 76.6, 76.8,
                76.9, 76.8, 77.0, 76.9, 77.0, 77.1, 77.0, 77.2, 77.1, 77.0,
                77.1, 77.2, 77.3, 77.4, 77.5, 77.9, 77.7, 77.8, 77.9, 78.0,
                78.0, 78.1, 78.2, 78.3, 78.3, 78.4, 78.5, 78.6, 78.7, 78.8,
                78.8, 78.9, 79.0, 79.1, 79.1, 79.2, 79.3, 79.4, 79.5, 79.5,
                79.6, 79.7, 79.8, 79.8, 79.9, 80.0, 80.1, 80.2, 80.2, 80.3,
                80.4, 80.5, 81.0, 80.6, 80.7, 80.8, 80.9, 81.0, 81.1, 81.2,
                81.6, 81.4, 81.5, 81.6, 81.7, 81.8, 81.7, 81.8, 81.8]

port_pings = [port_ping_1, port_ping_2, port_ping_3, port_ping_4, port_ping_5,
              port_ping_6, port_ping_7, port_ping_8, port_ping_9, port_ping_10,
              port_ping_11, port_ping_12, port_ping_13, port_ping_14, port_ping_15,
              port_ping_16, port_ping_17, port_ping_18, port_ping_19, port_ping_20]
stbd_pings = [stbd_ping_1, stbd_ping_2, stbd_ping_3, stbd_ping_4, stbd_ping_5,
              stbd_ping_6, stbd_ping_7, stbd_ping_8, stbd_ping_9, stbd_ping_10,
              stbd_ping_11, stbd_ping_12, stbd_ping_13, stbd_ping_14, stbd_ping_15,
              stbd_ping_16, stbd_ping_17, stbd_ping_18, stbd_ping_19, stbd_ping_20]

x_tick_vals = [-45, -40, -35, -30, -25, -20, -15, -10, -5, 0, 5, 10, 15, 20, 25, 30, 35, 40, 45, 50]
x_tick_text = ["-45.0", "-40.0", "-35.0", "-30.0", "-25.0", "-20.0", "-15.0", "-10.0", "-5.0", "0.0",
               "5.0", "10.0", "15.0", "20.0", "25.0", "30.0", "35.0", "40.0", "45.0", "50.0"]
y_tick_vals = [72.5, 73.0, 73.5, 74.0, 74.5, 75.0, 75.5, 76.0, 76.5, 77.0,
               77.5, 78.0, 78.5, 79.0, 79.5, 80.0, 80.5, 81.0, 81.5]
y_tick_text = ["72.5", "73.0", "73.5", "74.0", "74.5", "75.0", "75.5", "76.0", "76.5", "77.0",
               "77.5", "78.0", "78.5", "79.0", "79.5", "80.0", "80.5", "81.0", "81.5"]

panel_title = "Rear"
x_title = "Distance Along Swath"
y_title = "Depth"

# ---------------- styling / layout ----------------
W, H = 1470, 1026
L, R, T, B = 167, 1372, 87, 871          # plot area in pixels
PW, PH = R - L, B - T

def px(xp):
    return (xp - L) / PW

def py(yp):
    return (B - yp) / PH

port_color = "rgb(244,124,124)"
stbd_color = "rgb(40,240,40)"
grid_color = "rgb(178,178,178)"
label_color = "rgb(205,205,205)"
tick_font = dict(family="Roboto, Liberation Sans, sans-serif", size=15,
                 color=label_color, weight="bold")

fig = go.Figure()
for ping in port_pings:
    fig.add_trace(go.Scatter(x=x_port, y=ping, mode="lines",
                             line=dict(color=port_color, width=1), hoverinfo="skip"))
for ping in stbd_pings:
    fig.add_trace(go.Scatter(x=x_stbd, y=ping, mode="lines",
                             line=dict(color=stbd_color, width=1), hoverinfo="skip"))

shapes = [
    dict(type="rect", xref="paper", yref="paper", layer="below",
         x0=px(131), x1=px(1378), y0=py(896), y1=py(62),
         fillcolor="black", line=dict(width=0)),
    dict(type="line", xref="paper", yref="paper", layer="below",
         x0=px(131), x1=px(1378), y0=py(60.5), y1=py(60.5),
         line=dict(color="rgb(225,225,225)", width=2)),
    dict(type="rect", xref="paper", yref="paper", layer="above",
         x0=px(4.5), x1=px(1459.5), y0=py(1022), y1=py(3.5),
         line=dict(color="black", width=4), fillcolor="rgba(0,0,0,0)"),
]

annotations = [
    dict(text=panel_title, xref="paper", yref="paper", x=px(755), y=py(75),
         showarrow=False, xanchor="center", yanchor="middle",
         font=dict(family="Liberation Sans, Arial, sans-serif", size=16, color=label_color)),
    dict(text=x_title, xref="paper", yref="paper", x=px(716.5), y=py(936),
         showarrow=False, xanchor="center", yanchor="middle",
         font=dict(family="Liberation Serif, Times New Roman, serif", size=29.5, color="black")),
    dict(text=y_title, xref="paper", yref="paper", x=px(100), y=py(514),
         showarrow=False, xanchor="center", yanchor="middle", textangle=-90,
         font=dict(family="Liberation Serif, Times New Roman, serif", size=29.5, color="black")),
]

fig.update_layout(
    width=W, height=H,
    margin=dict(l=L, r=W - R, t=T, b=H - B, pad=0),
    paper_bgcolor="white", plot_bgcolor="black",
    showlegend=False,
    shapes=shapes, annotations=annotations,
    xaxis=dict(range=[-46.5, 54.35], tickvals=x_tick_vals, ticktext=x_tick_text,
               showgrid=True, gridcolor=grid_color, gridwidth=1.3,
               zeroline=False, showline=False,
               ticks="inside", ticklen=4, tickcolor=grid_color, tickwidth=1,
               tickfont=tick_font, fixedrange=True),
    yaxis=dict(range=[81.80, 72.14], tickvals=y_tick_vals, ticktext=y_tick_text,
               showgrid=True, gridcolor=grid_color, gridwidth=1.3,
               zeroline=False, showline=False,
               ticks="inside", ticklen=4, tickcolor=grid_color, tickwidth=1,
               tickfont=tick_font, fixedrange=True),
)

fig.write_html("out.html", config={"displayModeBar": False},
               post_script="document.body.style.margin='0';document.body.style.overflow='hidden';")
